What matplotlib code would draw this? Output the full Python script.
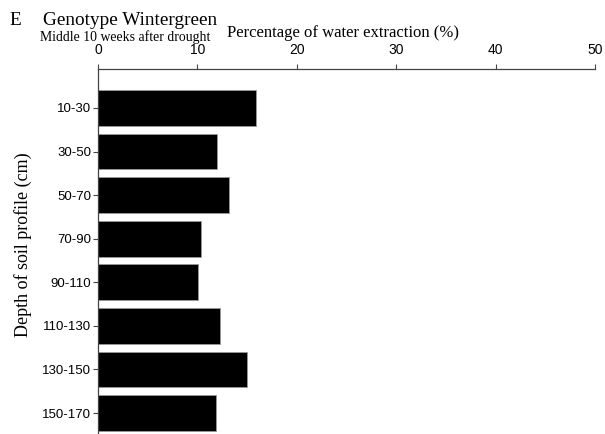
import numpy as np
import matplotlib.pyplot as plt

depths = ['10-30', '30-50', '50-70', '70-90', '90-110', '110-130', '130-150', '150-170']
extraction = [15.9, 12.0, 13.2, 10.4, 10.1, 12.3, 15.0, 11.9]

fig = plt.figure(figsize=(6.05, 4.34), dpi=100)
ax = fig.add_axes([0.162, 0.0, 0.8215, 0.841])

y = np.arange(len(depths))
ax.barh(y, extraction, height=0.82, color='black', edgecolor='#999999', linewidth=0.6)

ax.set_xlim(0, 50)
ax.set_ylim(7.48, -0.894)
ax.set_yticks(y)
ax.set_yticklabels(depths, family='Liberation Sans', fontsize=9.5)
ax.set_xticks([0, 10, 20, 30, 40, 50])
ax.set_xticklabels(['0', '10', '20', '30', '40', '50'], family='Liberation Sans', fontsize=10)
ax.xaxis.tick_top()
ax.tick_params(axis='x', direction='out', length=3.6, width=0.8, colors='#444444', labelcolor='black', pad=5)
ax.tick_params(axis='y', direction='out', length=3.5, width=0.8, colors='#444444', labelcolor='black', pad=1.5)

for s in ['right', 'bottom']:
    ax.spines[s].set_visible(False)
for s in ['top', 'left']:
    ax.spines[s].set_color('#444444')
    ax.spines[s].set_linewidth(0.9)

ax.set_ylabel('Depth of soil profile (cm)', family='Liberation Serif', fontsize=13)
ax.yaxis.set_label_coords(-0.133, 0.518)

# panel letter, title and subtitle above the top axis
fig.text(0.0165, 0.943, 'E', family='Liberation Serif', fontsize=13.9, va='baseline')
fig.text(0.071, 0.943, 'Genotype Wintergreen', family='Liberation Serif', fontsize=13.9, va='baseline')
fig.text(0.066, 0.906, 'Middle 10 weeks after drought', family='Liberation Serif', fontsize=9.9, va='baseline')
fig.text(0.375, 0.915, 'Percentage of water extraction (%)', family='Liberation Serif', fontsize=12, va='baseline')

fig.savefig('out.png', dpi=100)
